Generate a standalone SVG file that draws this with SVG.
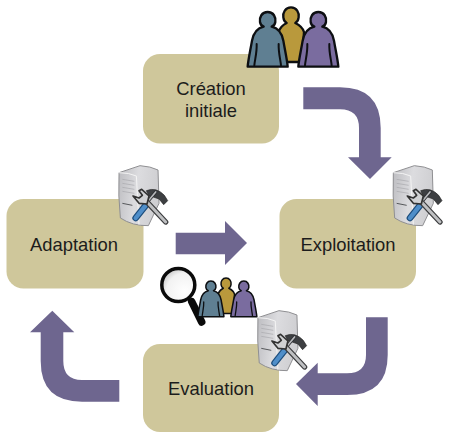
<svg xmlns="http://www.w3.org/2000/svg" xmlns:xlink="http://www.w3.org/1999/xlink" width="449" height="441" viewBox="0 0 449 441">
<style>
.box{fill:#cfc79b}
.arrow{fill:#6e668f}
.label{font-family:"Liberation Sans",Arial,sans-serif;font-size:18.4px;fill:#1c1c1c;text-anchor:middle}
.body{stroke:#0d0f12;stroke-width:7;stroke-linejoin:round}
.arm{fill:none;stroke:#0d0f12;stroke-width:6;stroke-linecap:round}
</style>
<defs>
<linearGradient id="srv" x1="0" y1="0" x2="1" y2="0.2"><stop offset="0" stop-color="#bcbcc0"/><stop offset="0.5" stop-color="#dcdcdf"/><stop offset="1" stop-color="#cfcfd2"/></linearGradient>
<radialGradient id="lens" cx="0.7" cy="0.7" r="0.8"><stop offset="0" stop-color="#ffffff"/><stop offset="0.7" stop-color="#f2f2f2"/><stop offset="1" stop-color="#c4c4c4"/></radialGradient>
<g id="person">
<path d="M0,-36 C-18,-36 -25,-20 -23,-6 C-22,2 -17,6 -12,8 C-30,12 -42,24 -47,50 C-52,80 -58,105 -60,128 L60,128 C58,105 52,80 47,50 C42,24 30,12 12,8 C17,6 22,2 23,-6 C25,-20 18,-36 0,-36 Z" class="body"/>
<path d="M-33,60 C-32,85 -38,105 -40,124 M33,60 C32,85 38,105 40,124" class="arm"/>
</g>
<g id="people">
<path d="M183,22 C166,22 158,38 160,52 C161,60 165,66 170,69 C160,74 150,82 146,96 L150,186 H216 L222,96 C218,82 206,74 196,69 C201,66 205,60 206,52 C208,38 200,22 183,22 Z" fill="#b9993c" class="body"/>
<use xlink:href="#person" transform="translate(113,72)" fill="#5f7f92"/>
<use xlink:href="#person" transform="translate(265,72)" fill="#7a6c9f"/>
</g>
<g id="server">
<path d="M40,38 L103,17 Q135,19 157,30 L160,130 L128,197 Q80,198 44,174 Q37,110 40,38 Z" fill="url(#srv)" stroke="#8f8f92" stroke-width="3" stroke-linejoin="round"/>
<path d="M40,38 Q70,38 92,48 L100,194" fill="none" stroke="#f4f4f4" stroke-width="3"/>
<path d="M50,58 L86,64 M50,70 L86,76 M50,82 L86,88 M50,94 L86,100" stroke="#a8a8ac" stroke-width="2" fill="none"/>
<path d="M50,130 L80,136" stroke="#55575a" stroke-width="3" fill="none"/>
<path d="M122,92 Q152,80 176,106 L186,122 L174,134 L160,117 Q142,110 130,108 Z" fill="#3d3f42" stroke="#222" stroke-width="2"/>
<path d="M150,96 L120,132" stroke="#2d2f33" stroke-width="10" stroke-linecap="round"/>
<path d="M150,96 L120,132" stroke="#b9babd" stroke-width="5" stroke-linecap="round"/>
<path d="M120,136 L90,174" stroke="#1d4d7c" stroke-width="20" stroke-linecap="round"/>
<path d="M120,136 L90,174" stroke="#4f8ec9" stroke-width="13" stroke-linecap="round"/>
<path d="M122,124 L180,186" stroke="#3c3d3f" stroke-width="16" stroke-linecap="round"/>
<path d="M122,124 L180,186" stroke="#bfc0c2" stroke-width="9" stroke-linecap="round"/>
<path d="M108,88 L130,108 L124,132 L100,130 L82,108 L100,114 L110,106 L100,92 Z" fill="#d0d1d3" stroke="#333" stroke-width="5" stroke-linejoin="round"/>
</g>
</defs>
<rect width="449" height="441" fill="#fff"/>
<g id="connectors">
<path class="arrow" d="M303.300,87.300 H340 Q380.700,87.300 380.700,128 V157.300 H391.700 L370,179 L348,157.300 H359 V128 Q359,109.300 340,109.300 H303.300 Z"/>
<path class="arrow" d="M387.700,317.300 V355 Q387.700,395 347,395 H317.700 V406 L296,384 L317.700,362.700 V373.300 H347 Q366,373.300 366,355 V317.300 Z"/>
<path class="arrow" d="M119.300,380 V401.700 H82 Q40.700,401.700 40.700,361 V332.300 H30 L52.300,310.700 L74.300,332.300 H63.300 V361 Q63.300,380 82,380 Z"/>
<path class="arrow" d="M175.700,232.700 H225 V221 L247,243 L225,265 V254.300 H175.700 Z"/>
</g>
<g id="node-creation">
<rect class="box" x="143" y="54" width="136" height="89.500" rx="17"/>
<text class="label" x="211" y="95">Création</text>
<text class="label" x="211" y="117">initiale</text>
<use xlink:href="#people" transform="translate(230,0) scale(.3333)"/>
</g>
<g id="node-exploitation">
<rect class="box" x="279.500" y="199" width="136.500" height="89.500" rx="17"/>
<text class="label" x="348" y="251">Exploitation</text>
<use xlink:href="#server" transform="translate(380,160) scale(.3333)"/>
</g>
<g id="node-adaptation">
<rect class="box" x="6.500" y="199" width="137" height="89.500" rx="17"/>
<text class="label" x="74" y="251">Adaptation</text>
<use xlink:href="#server" transform="translate(105.700,160) scale(.3333)"/>
</g>
<g id="node-evaluation">
<rect class="box" x="143" y="344" width="136" height="88" rx="17"/>
<text class="label" x="211" y="395">Evaluation</text>
<use xlink:href="#server" transform="translate(244.600,305) scale(.3333)"/>
</g>
<g id="magnifier-people">
<path d="M191.700,301.700 L201.700,322" stroke="#0a0a0a" stroke-width="7.500" stroke-linecap="round"/>
<circle cx="178.300" cy="285" r="16.500" fill="url(#lens)" stroke="#0a0a0a" stroke-width="3.500"/>
<use xlink:href="#people" transform="translate(186.400,273.300) scale(.2167)"/>
</g>
</svg>
